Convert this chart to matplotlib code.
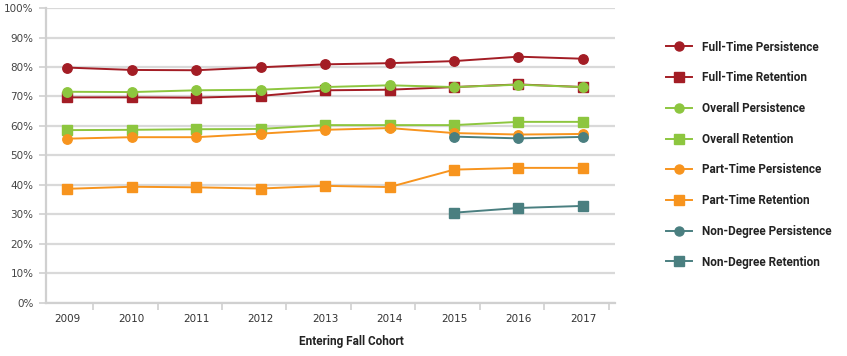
import matplotlib
matplotlib.use("Agg")
import matplotlib.pyplot as plt
import numpy as np

years = ["2009", "2010", "2011", "2012", "2013", "2014", "2015", "2016", "2017"]

ft_persistence = [79.8, 79.0, 78.9, 79.9, 80.9, 81.3, 82.0, 83.5, 82.8]
ft_retention = [69.7, 69.7, 69.6, 70.2, 72.1, 72.3, 73.2, 74.1, 73.2]
overall_persistence = [71.6, 71.5, 72.1, 72.3, 73.2, 73.8, 73.2, 74.0, 73.2]
overall_retention = [58.6, 58.7, 58.9, 59.0, 60.3, 60.3, 60.3, 61.4, 61.4]
pt_persistence = [55.7, 56.2, 56.2, 57.4, 58.7, 59.3, 57.6, 57.1, 57.3]
pt_retention = [38.7, 39.4, 39.2, 38.8, 39.7, 39.3, 45.2, 45.8, 45.8]
nd_persistence = [None, None, None, None, None, None, 56.4, 55.8, 56.3]
nd_retention = [None, None, None, None, None, None, 30.6, 32.2, 32.9]

series = [
    ("Full-Time Persistence", ft_persistence, "#A31D25", "o"),
    ("Full-Time Retention", ft_retention, "#A31D25", "s"),
    ("Overall Persistence", overall_persistence, "#8DC63F", "o"),
    ("Overall Retention", overall_retention, "#8DC63F", "s"),
    ("Part-Time Persistence", pt_persistence, "#F7941E", "o"),
    ("Part-Time Retention", pt_retention, "#F7941E", "s"),
    ("Non-Degree Persistence", nd_persistence, "#4A7F80", "o"),
    ("Non-Degree Retention", nd_retention, "#4A7F80", "s"),
]

bold_family = ["Roboto", "DejaVu Sans"]

fig = plt.figure(figsize=(8.47, 3.56), dpi=100)
ax = fig.add_axes([0.0543, 0.149, 0.672, 0.8285])

x = np.arange(len(years))
for name, vals, color, marker in series:
    y = np.array([np.nan if v is None else v for v in vals], dtype=float)
    ms = 6.8 if marker == "o" else 7.6
    ax.plot(x, y, color=color, marker=marker, markersize=ms, linewidth=1.4,
            label=name, zorder=3)

ax.set_ylim(0, 100)
ax.set_xlim(-0.33, 8.5)
ax.set_yticks(np.arange(0, 101, 10))
ax.set_yticklabels([f"{v}%" for v in range(0, 101, 10)])
ax.yaxis.grid(True, color="#d9d9d9", linewidth=1.6)
ax.set_axisbelow(True)

ax.set_xticks(x)
ax.set_xticklabels(years)
ax.set_xticks(x + 0.4, minor=True)
ax.tick_params(axis="x", which="major", length=0, pad=8, labelsize=7.5,
               labelcolor="#333333")
ax.tick_params(axis="x", which="minor", length=5, width=1.2, color="#d0d0d0")
ax.tick_params(axis="y", length=5, width=1.2, color="#d0d0d0", labelsize=7.5,
               labelcolor="#444444", pad=4)

for side in ["top", "right"]:
    ax.spines[side].set_visible(False)
ax.spines["left"].set_color("#d0d0d0")
ax.spines["left"].set_linewidth(1.6)
ax.spines["bottom"].set_color("#d0d0d0")
ax.spines["bottom"].set_linewidth(1.6)

fig.text(351 / 847, 1 - 342 / 356, "Entering Fall Cohort", ha="center",
         va="center", fontsize=8.5, color="#222222", family=bold_family,
         weight="bold")

leg = ax.legend(loc="upper left", bbox_to_anchor=(655 / 847, 1 - 30 / 356),
                bbox_transform=fig.transFigure, frameon=False,
                labelspacing=1.5, handlelength=2.2, handletextpad=0.85,
                prop=dict(size=8.5, weight="bold", family=bold_family))
for h in leg.legend_handles:
    h.set_markersize(6.5)
for t in leg.get_texts():
    t.set_color("#222222")

fig.savefig("out.png", dpi=100)
